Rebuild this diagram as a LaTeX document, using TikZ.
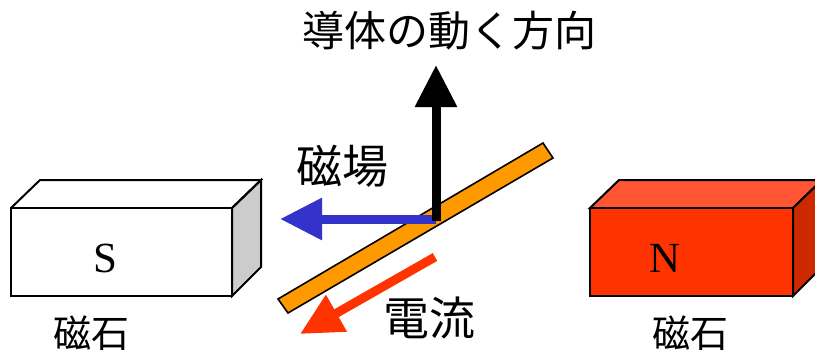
\documentclass[tikz,border=0pt]{standalone}
\usepackage{fontspec}
\setmainfont{Liberation Serif}
\newfontfamily\jp{Noto Sans CJK JP}
\usetikzlibrary{arrows.meta}
\definecolor{nfront}{HTML}{FF3300}
\definecolor{ntop}{HTML}{FF5533}
\definecolor{nside}{HTML}{CC2900}
\definecolor{sside}{HTML}{CCCCCC}
\definecolor{barorange}{HTML}{FF9900}
\definecolor{fieldblue}{HTML}{3333CC}
\definecolor{currentred}{HTML}{FF3300}
\begin{document}
\begin{tikzpicture}[x=1pt,y=-1pt,
  edge/.style={draw=black,line width=2pt,line join=miter},
  jlabel/.style={inner sep=0pt,font=\jp\fontsize{46}{50}\selectfont},
  pole/.style={inner sep=0pt,font=\fontsize{43}{46}\selectfont},
  bigarrow/.style={line width=9pt,-{Triangle[length=42pt,width=40pt]}}]
\useasboundingbox (0,0) rectangle (815,351);

% south pole magnet (white box)
\fill[white] (11,208) -- (40,180) -- (261,180) -- (232,208) -- cycle;
\filldraw[fill=sside,edge] (232,208) -- (261,180) -- (261,267) -- (232,296) -- cycle;
\draw[edge] (11,208) -- (40,180) -- (261,180) -- (232,208);
\draw[edge] (11,208) rectangle (232,296);
\node[pole] (S) at (105,258) {S};
\node[jlabel,font=\jp\fontsize{38}{42}\selectfont] (magS) at (91,333) {磁石};

% north pole magnet (red box, cut by the right edge)
\begin{scope}
\clip (0,0) rectangle (815,351);
\filldraw[fill=ntop,edge] (590,208) -- (619,180) -- (822,180) -- (793,208) -- cycle;
\filldraw[fill=nside,edge] (793,208) -- (822,180) -- (822,267) -- (793,296) -- cycle;
\filldraw[fill=nfront,edge] (590,208) rectangle (793,296);
\end{scope}
\node[pole] (N) at (665,258) {N};
\node[jlabel,font=\jp\fontsize{38}{42}\selectfont] (magN) at (690,333) {磁石};

% conductor bar
\filldraw[fill=barorange,draw=black,line width=1.6pt]
  (278,299) -- (543,143) -- (553,158) -- (288,313) -- cycle;

% force, field and current arrows
\coordinate (o) at (436,219);
\coordinate (fieldtip) at (280,219);
\coordinate (motionbase) at (436,221);
\coordinate (motiontip) at (436,65);
\coordinate (curbase) at (435,257);
\coordinate (curtip) at (300,334);
\draw[bigarrow,fieldblue] (o) -- (fieldtip);
\draw[bigarrow,black] (motionbase) -- (motiontip);
\draw[bigarrow,currentred] (curbase) -- (curtip);

% labels
\node[jlabel,font=\jp\fontsize{42}{46}\selectfont] (title) at (449,31) {導体の動く方向};
\node[jlabel] (field) at (342,166) {磁場};
\node[jlabel] (current) at (429,318) {電流};
\end{tikzpicture}
\end{document}
